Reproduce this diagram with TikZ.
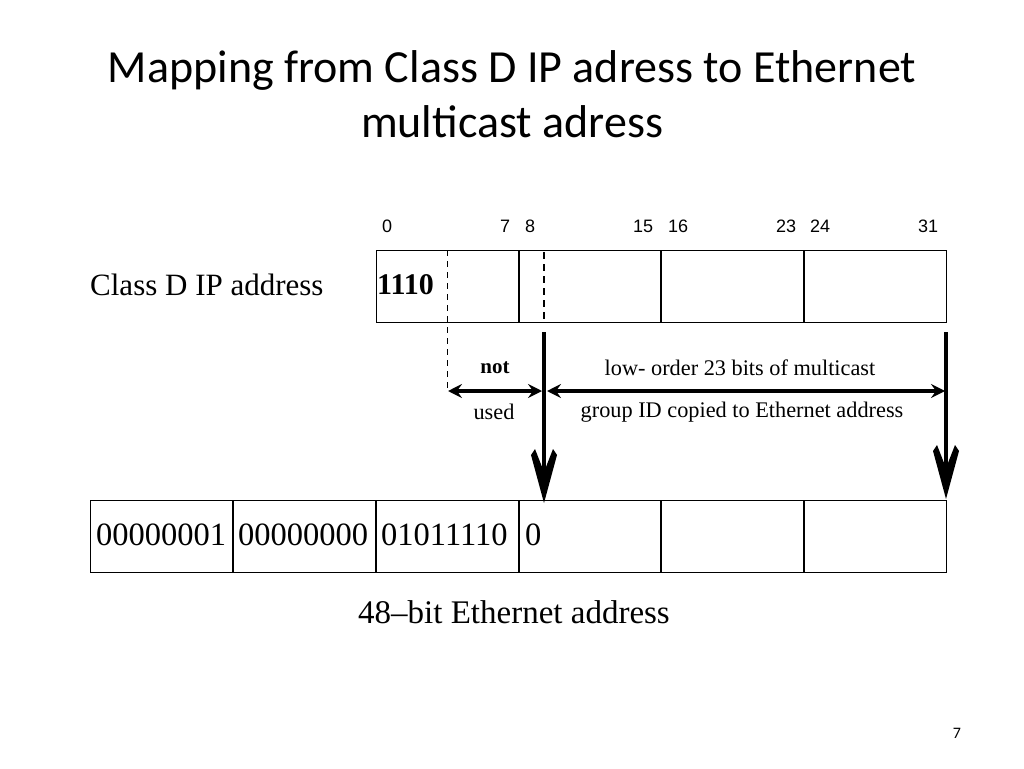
\documentclass[tikz,border=0pt]{standalone}
\usepackage{fontspec}
\setmainfont{Liberation Serif}
\newfontfamily\titlefont{Carlito}
\newfontfamily\numfont{Liberation Sans}
\usetikzlibrary{arrows.meta}
\begin{document}
\begin{tikzpicture}[x=1pt,y=-1pt,
  titletext/.style={font=\titlefont\fontsize{46}{52}\selectfont},
  rowbox/.style={draw, line width=1.2pt, minimum height=72pt, inner sep=0pt, anchor=north west},
  bitnum/.style={font=\numfont\fontsize{18}{20}\selectfont},
  celltext/.style={font=\fontsize{32.5}{34}\selectfont, anchor=west, inner sep=0pt},
  lbl/.style={font=\fontsize{22.3}{24}\selectfont},
  thin divider/.style={line width=1.2pt},
  thick divider/.style={line width=2.2pt},
  shaft/.style={line width=4.5pt},
  vhead/.style={fill=black},
  hharrow/.style={line width=3.5pt, {Stealth[length=14pt,width=14pt,inset=5pt]}-{Stealth[length=14pt,width=14pt,inset=5pt]}}
]
\useasboundingbox (0,0) rectangle (1024,768);
\fill[white] (0,0) rectangle (1024,768);

% title
\node[titletext] (t1) at (512,70) {Mapping from Class D IP adress to Ethernet};
\node[titletext] (t2) at (512,122) {multicast adress};
\node[font=\titlefont\fontsize{16}{18}\selectfont] (pg) at (957,733) {7};

% Class D IP address
\node[font=\fontsize{31}{34}\selectfont, anchor=west, inner sep=0pt] (cdlabel) at (90,285) {Class D IP address};
\node[rowbox, minimum width=570pt] (ip) at (376,250) {};
\draw[thin divider] (519,250) -- (519,322);
\draw[thick divider] (661,250) -- (661,322);
\draw[thick divider] (804,250) -- (804,322);
\draw[line width=1pt, dash pattern=on 6pt off 5pt] (447,250) -- (447,392);
\draw[line width=2.6pt, dash pattern=on 7pt off 5pt] (544,252) -- (544,322);
\node[font=\bfseries\fontsize{30}{32}\selectfont, anchor=west, inner sep=0pt] (b1110) at (377,285) {1110};

% bit numbers
\node[bitnum] (n0) at (387,226) {0};
\node[bitnum] (n7) at (505,226) {7};
\node[bitnum] (n8) at (530,226) {8};
\node[bitnum] (n15) at (643,226) {15};
\node[bitnum] (n16) at (678,226) {16};
\node[bitnum] (n23) at (786,226) {23};
\node[bitnum] (n24) at (820,226) {24};
\node[bitnum] (n31) at (928,226) {31};

% Ethernet address
\node[rowbox, minimum width=856pt] (eth) at (90,500) {};
\draw[thin divider] (233,500) -- (233,572);
\draw[thin divider] (376,500) -- (376,572);
\draw[thin divider] (519,500) -- (519,572);
\draw[thick divider] (661,500) -- (661,572);
\draw[thick divider] (804,500) -- (804,572);
\node[celltext] (x1) at (96,535) {00000001};
\node[celltext] (x2) at (238,535) {00000000};
\node[celltext] (x3) at (381,535) {01011110};
\node[celltext] (x4) at (525,535) {0};
\node[font=\fontsize{33}{36}\selectfont] (ethlabel) at (514,612) {48--bit Ethernet address};

% down arrows
\coordinate (s8) at (544,332);
\coordinate (d8) at (544,503);
\coordinate (s31) at (946,332);
\coordinate (d31) at (946,499);
\draw[shaft] (s8) -- ([yshift=12pt]d8);
\fill[vhead] (d8) -- ([shift={(-13,-48)}]d8) -- ([shift={(-9,-54)}]d8) -- ([shift={(0,-31)}]d8) -- ([shift={(9,-54)}]d8) -- ([shift={(13,-48)}]d8) -- cycle;
\draw[shaft] (s31) -- ([yshift=12pt]d31);
\fill[vhead] (d31) -- ([shift={(-13,-48)}]d31) -- ([shift={(-9,-54)}]d31) -- ([shift={(0,-31)}]d31) -- ([shift={(9,-54)}]d31) -- ([shift={(13,-48)}]d31) -- cycle;

% horizontal arrows
\coordinate (nul) at (448,391);
\coordinate (nur) at (542,391);
\coordinate (lol) at (547,391);
\coordinate (lor) at (945,391);
\draw[hharrow] (nul) -- (nur);
\draw[hharrow] (lol) -- (lor);

\node[font=\bfseries\fontsize{21}{24}\selectfont] (not) at (495,368) {not};
\node[lbl] (used) at (494,412) {used};
\node[lbl] (low) at (740,368) {low- order 23 bits of multicast};
\node[lbl] (grp) at (742,412) {group ID copied to Ethernet address};
\end{tikzpicture}
\end{document}
